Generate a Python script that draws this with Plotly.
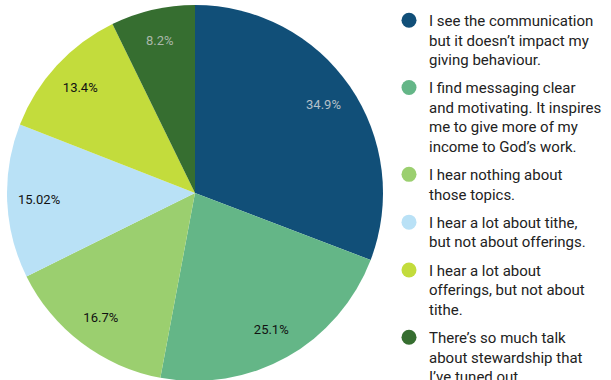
import plotly.graph_objects as go

# Survey responses: share of respondents per statement (percent)
labels = [
    "I see the communication<br>but it doesn’t impact my<br>giving behaviour.",
    "I find messaging clear<br>and motivating. It inspires<br>me to give more of my<br>income to God’s work.",
    "I hear nothing about<br>those topics.",
    "I hear a lot about tithe,<br>but not about offerings.",
    "I hear a lot about<br>offerings, but not about<br>tithe.",
    "There’s so much talk<br>about stewardship that<br>I’ve tuned out.",
]
values = [34.9, 25.1, 16.7, 15.02, 13.4, 8.2]
colors = ["#114f78", "#64b687", "#9bcf6f", "#b9e1f6", "#c3dc3c", "#366e30"]
label_colors = ["#b4c0c8", "#111111", "#111111", "#111111", "#111111", "#aab8aa"]

W, H = 611, 420
cx, cy, R = 195, 193, 188
domain = dict(
    x=[(cx - R) / W, (cx + R) / W],
    y=[(H - (cy + R)) / H, (H - (cy - R)) / H],
)

fig = go.Figure()

# Solid pie slices
fig.add_trace(go.Pie(
    labels=labels, values=values, sort=False, direction="clockwise", rotation=0,
    marker=dict(colors=colors, line=dict(width=0)),
    textinfo="none", showlegend=False, domain=domain, hoverinfo="label+value",
))

# Transparent ring on top that carries the percentage labels near the rim
fig.add_trace(go.Pie(
    labels=labels, values=values, sort=False, direction="clockwise", rotation=0,
    hole=0.66,
    marker=dict(colors=["rgba(0,0,0,0)"] * len(values), line=dict(width=0)),
    texttemplate="%{value}%", textposition="inside",
    insidetextorientation="horizontal",
    textfont=dict(family="Roboto", size=13, color=label_colors),
    showlegend=False, domain=domain, hoverinfo="skip",
))

# Legend entries with round swatches, one group each so the group gap spaces them
for i, (lab, col) in enumerate(zip(labels, colors)):
    fig.add_trace(go.Scatter(
        x=[None], y=[None], mode="markers", name=lab, legendgroup=f"g{i}",
        marker=dict(symbol="circle", size=15, color=col),
    ))

fig.update_layout(
    width=W, height=H,
    margin=dict(l=0, r=0, t=0, b=0),
    paper_bgcolor="white", plot_bgcolor="white",
    xaxis=dict(visible=False), yaxis=dict(visible=False),
    legend=dict(
        x=389 / W, y=1 - 4 / H, xanchor="left", yanchor="top",
        font=dict(family="Roboto", size=15, color="#222222"),
        valign="top", itemsizing="trace", tracegroupgap=5.8,
        bgcolor="rgba(0,0,0,0)",
    ),
)

fig.write_html(
    "out.html",
    post_script="document.body.style.margin='0';document.body.style.overflow='hidden';",
)
